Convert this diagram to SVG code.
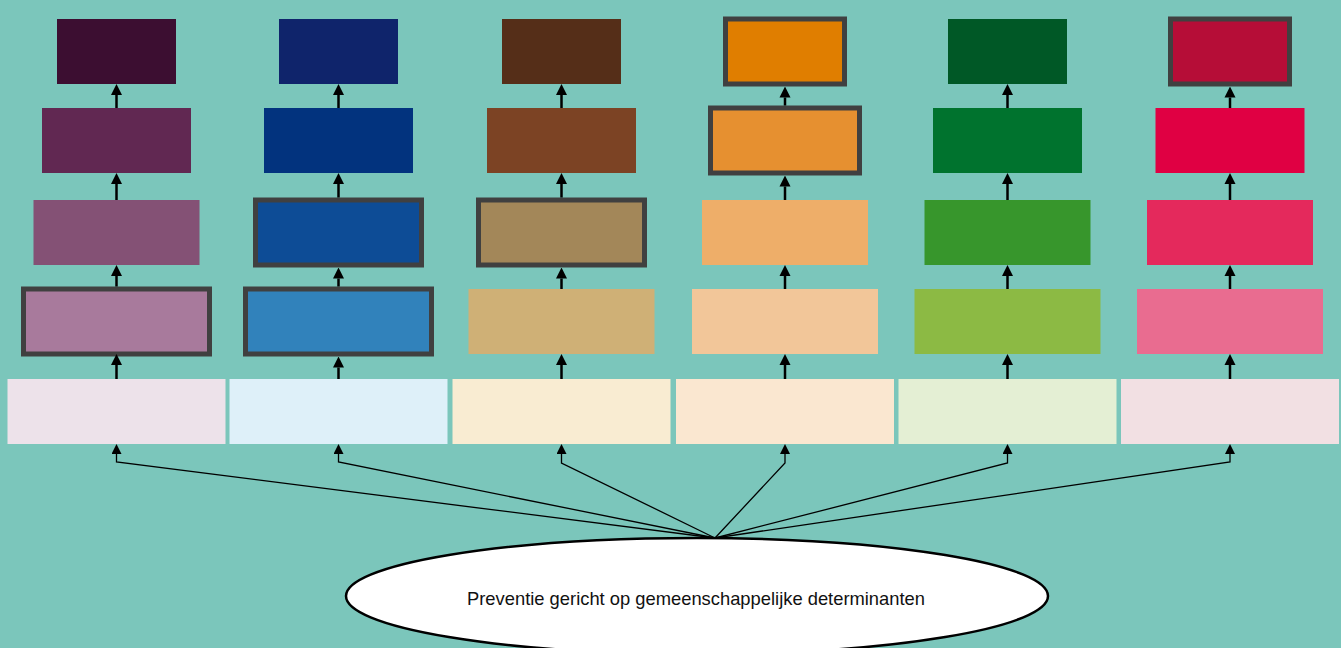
<svg xmlns="http://www.w3.org/2000/svg" width="1341" height="648" viewBox="0 0 1341 648">
<style>
.b{stroke:#404040;stroke-width:5}
.a{fill:none;stroke:#000;stroke-width:2.5}
.t{fill:none;stroke:#000;stroke-width:1.3}
.lbl{font-family:"Liberation Sans","Open Sans",sans-serif;font-size:19px;fill:#111}
</style>
<defs>
<marker id="ah" markerUnits="userSpaceOnUse" markerWidth="11" markerHeight="12" refX="0" refY="5.5" orient="auto" viewBox="0 0 11 11">
<path d="M0,0 L11,5.5 L0,11 z" fill="#000"/>
</marker>
<marker id="ah2" markerUnits="userSpaceOnUse" markerWidth="10" markerHeight="10" refX="0" refY="5" orient="auto" viewBox="0 0 10 10">
<path d="M0,0 L10,5 L0,10 z" fill="#000"/>
</marker>
</defs>
<rect width="1341" height="648" fill="#7bc6bb"/>
<g id="col1">
<g id="c1r1"><rect x="57" y="19" width="119" height="65" fill="#3c0e31"/></g>
<g id="c1r2"><rect x="42" y="108" width="149" height="65" fill="#612852"/></g>
<g id="c1r3"><rect x="33.5" y="200" width="166" height="65" fill="#845175"/></g>
<g id="c1r4"><rect class="b" x="23.5" y="289" width="186" height="65" fill="#a87a9c"/></g>
<g id="c1r5"><rect x="7.5" y="379" width="218" height="65" fill="#ede2ea"/></g>
</g>
<g id="col2">
<g id="c2r1"><rect x="279" y="19" width="119" height="65" fill="#0f246b"/></g>
<g id="c2r2"><rect x="264" y="108" width="149" height="65" fill="#02337e"/></g>
<g id="c2r3"><rect class="b" x="255.5" y="200" width="166" height="65" fill="#0d4c96"/></g>
<g id="c2r4"><rect class="b" x="245.5" y="289" width="186" height="65" fill="#3182bb"/></g>
<g id="c2r5"><rect x="229.5" y="379" width="218" height="65" fill="#def0f9"/></g>
</g>
<g id="col3">
<g id="c3r1"><rect x="502" y="19" width="119" height="65" fill="#552e18"/></g>
<g id="c3r2"><rect x="487" y="108" width="149" height="65" fill="#7c4324"/></g>
<g id="c3r3"><rect class="b" x="478.5" y="200" width="166" height="65" fill="#a38759"/></g>
<g id="c3r4"><rect x="468.5" y="289" width="186" height="65" fill="#cfb076"/></g>
<g id="c3r5"><rect x="452.5" y="379" width="218" height="65" fill="#f9ecd2"/></g>
</g>
<g id="col4">
<g id="c4r1"><rect class="b" x="725.5" y="19" width="119" height="65" fill="#e07e00"/></g>
<g id="c4r2"><rect class="b" x="710.5" y="108" width="149" height="65" fill="#e69030"/></g>
<g id="c4r3"><rect x="702" y="200" width="166" height="65" fill="#eeae69"/></g>
<g id="c4r4"><rect x="692" y="289" width="186" height="65" fill="#f2c699"/></g>
<g id="c4r5"><rect x="676" y="379" width="218" height="65" fill="#fae7d0"/></g>
</g>
<g id="col5">
<g id="c5r1"><rect x="948" y="19" width="119" height="65" fill="#005826"/></g>
<g id="c5r2"><rect x="933" y="108" width="149" height="65" fill="#00732e"/></g>
<g id="c5r3"><rect x="924.5" y="200" width="166" height="65" fill="#37962c"/></g>
<g id="c5r4"><rect x="914.5" y="289" width="186" height="65" fill="#8cba44"/></g>
<g id="c5r5"><rect x="898.5" y="379" width="218" height="65" fill="#e4efd4"/></g>
</g>
<g id="col6">
<g id="c6r1"><rect class="b" x="1170.5" y="19" width="119" height="65" fill="#b60d37"/></g>
<g id="c6r2"><rect x="1155.5" y="108" width="149" height="65" fill="#e00043"/></g>
<g id="c6r3"><rect x="1147" y="200" width="166" height="65" fill="#e4295c"/></g>
<g id="c6r4"><rect x="1137" y="289" width="186" height="65" fill="#e96c90"/></g>
<g id="c6r5"><rect x="1121" y="379" width="218" height="65" fill="#f2e0e3"/></g>
</g>
<g id="root">
<ellipse cx="697" cy="596" rx="351" ry="58" fill="#fff" stroke="#000" stroke-width="2.5"/>
<text class="lbl" x="696" y="605" text-anchor="middle" textLength="458" lengthAdjust="spacingAndGlyphs">Preventie gericht op gemeenschappelijke determinanten</text>
</g>
<g id="connectors">
<path class="a" marker-end="url(#ah)" d="M116.5,379V365"/>
<path class="a" marker-end="url(#ah)" d="M116.5,286.5V276"/>
<path class="a" marker-end="url(#ah)" d="M116.5,200V184"/>
<path class="a" marker-end="url(#ah)" d="M116.5,108V95"/>
<path class="a" marker-end="url(#ah)" d="M338.5,379V367.5"/>
<path class="a" marker-end="url(#ah)" d="M338.5,286.5V278.5"/>
<path class="a" marker-end="url(#ah)" d="M338.5,197.5V184"/>
<path class="a" marker-end="url(#ah)" d="M338.5,108V95"/>
<path class="a" marker-end="url(#ah)" d="M561.5,379V365"/>
<path class="a" marker-end="url(#ah)" d="M561.5,289V278.5"/>
<path class="a" marker-end="url(#ah)" d="M561.5,197.5V184"/>
<path class="a" marker-end="url(#ah)" d="M561.5,108V95"/>
<path class="a" marker-end="url(#ah)" d="M785,379V365"/>
<path class="a" marker-end="url(#ah)" d="M785,289V276"/>
<path class="a" marker-end="url(#ah)" d="M785,200V186.5"/>
<path class="a" marker-end="url(#ah)" d="M785,105.5V97.5"/>
<path class="a" marker-end="url(#ah)" d="M1007.5,379V365"/>
<path class="a" marker-end="url(#ah)" d="M1007.5,289V276"/>
<path class="a" marker-end="url(#ah)" d="M1007.5,200V184"/>
<path class="a" marker-end="url(#ah)" d="M1007.5,108V95"/>
<path class="a" marker-end="url(#ah)" d="M1230,379V365"/>
<path class="a" marker-end="url(#ah)" d="M1230,289V276"/>
<path class="a" marker-end="url(#ah)" d="M1230,200V184"/>
<path class="a" marker-end="url(#ah)" d="M1230,108V97.5"/>
<path class="t" marker-end="url(#ah2)" d="M715,538L116.5,462V454"/>
<path class="t" marker-end="url(#ah2)" d="M715,538L338.5,462V454"/>
<path class="t" marker-end="url(#ah2)" d="M715,538L561.5,463V454"/>
<path class="t" marker-end="url(#ah2)" d="M715,538L785,463V454"/>
<path class="t" marker-end="url(#ah2)" d="M715,538L1007.5,463V454"/>
<path class="t" marker-end="url(#ah2)" d="M715,538L1230,462V454"/>
</g>
</svg>
